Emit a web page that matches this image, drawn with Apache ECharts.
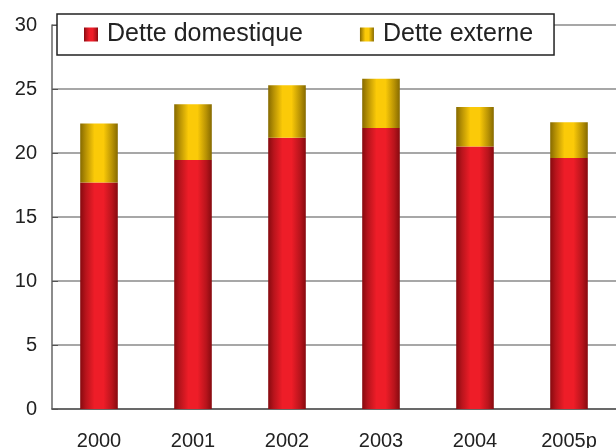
<!DOCTYPE html>
<html>
<head>
<meta charset="utf-8">
<script src="https://cdn.jsdelivr.net/npm/echarts@6/dist/echarts.min.js"></script>
<style>
  html, body { margin: 0; padding: 0; background: #fff; }
  #chart { width: 616px; height: 448px; }
</style>
</head>
<body>
<div id="chart"></div>
<script>
const years = ['2000', '2001', '2002', '2003', '2004', '2005p'];
const domestique = [17.7, 19.45, 21.2, 21.95, 20.5, 19.6];
const externe = [4.6, 4.35, 4.1, 3.85, 3.1, 2.8];

const FONT = "'Liberation Sans', Arial, sans-serif";

// cylinder-ish shading, dark on both edges
const shade = (edge, mid, center) => ({
  type: 'linear', x: 0, y: 0, x2: 1, y2: 0,
  colorStops: [
    { offset: 0, color: edge },
    { offset: 0.15, color: mid },
    { offset: 0.38, color: center },
    { offset: 0.62, color: center },
    { offset: 0.85, color: mid },
    { offset: 1, color: edge },
  ],
});

const chart = echarts.init(document.getElementById('chart'));
chart.setOption({
  animation: false,
  textStyle: { fontFamily: FONT },
  legend: {
    left: 57,
    top: 14,
    padding: [8, 21, 8, 27],
    itemGap: 57,
    itemWidth: 14,
    itemHeight: 14,
    icon: 'rect',
    borderColor: '#222',
    borderWidth: 1.5,
    borderRadius: 0,
    backgroundColor: '#fff',
    textStyle: { fontSize: 25, color: '#222', fontFamily: FONT, padding: [0, 0, 0, 4] },
    data: ['Dette domestique', 'Dette externe'],
    z: 10,
  },
  grid: { left: 52, right: 0, top: 25, bottom: 39, outerBoundsMode: 'none', containLabel: false },
  xAxis: {
    type: 'category',
    data: years,
    axisLine: { lineStyle: { color: '#555', width: 1.5 } },
    axisTick: { inside: true, length: 7, lineStyle: { color: '#666' } },
    axisLabel: { fontSize: 20, color: '#222', margin: 22 },
  },
  yAxis: {
    type: 'value',
    min: 0,
    max: 30,
    interval: 5,
    axisLine: { show: true, lineStyle: { color: '#666', width: 1.5 } },
    axisTick: { show: true, inside: true, length: 6, lineStyle: { color: '#555' } },
    axisLabel: { fontSize: 20, color: '#222', margin: 15 },
    splitLine: { lineStyle: { color: '#8a8a8a', width: 1.5 } },
  },
  series: [
    {
      name: 'Dette domestique',
      type: 'bar',
      stack: 'dette',
      barWidth: '40%',
      data: domestique,
      itemStyle: { color: shade('#860a0f', '#b8141c', '#ee1d28') },
    },
    {
      name: 'Dette externe',
      type: 'bar',
      stack: 'dette',
      barWidth: '40%',
      data: externe,
      itemStyle: { color: shade('#866a00', '#b89204', '#fbca08') },
    },
  ],
});
</script>
</body>
</html>
